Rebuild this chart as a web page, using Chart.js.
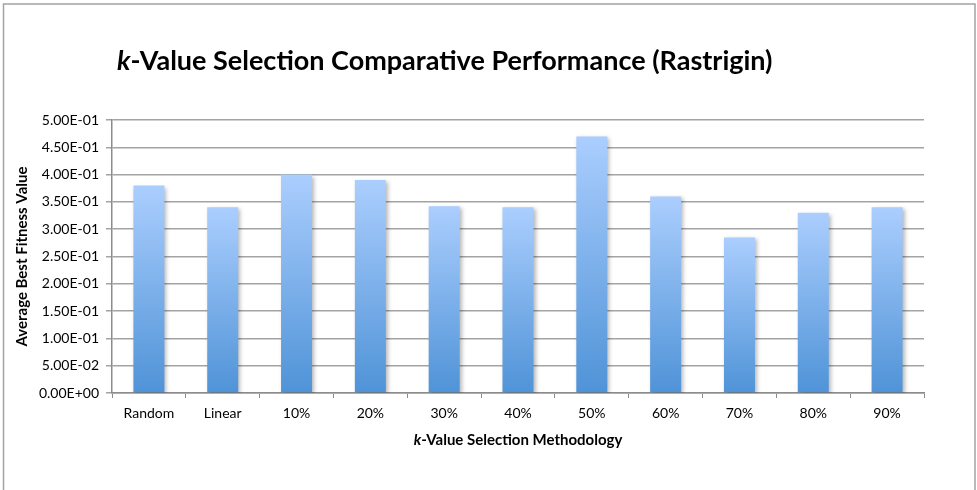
<!DOCTYPE html>
<html>
<head>
<meta charset="utf-8">
<title>k-Value Selection Comparative Performance (Rastrigin)</title>
<script src="https://cdn.jsdelivr.net/npm/chart.js@4/dist/chart.umd.min.js"></script>
<style>
  html, body { margin: 0; padding: 0; background: #ffffff; }
  #wrap { position: relative; width: 977px; height: 490px; }
  canvas { display: block; }
</style>
</head>
<body>
<div id="wrap"><canvas id="chart" width="977" height="490"></canvas></div>
<script>
// Methods compared on the x axis
const categories = ['Random', 'Linear', '10%', '20%', '30%', '40%', '50%', '60%', '70%', '80%', '90%'];

// Average best fitness reached by each k-value selection method
const avgBestFitness = [0.38, 0.34, 0.40, 0.39, 0.342, 0.34, 0.47, 0.36, 0.285, 0.33, 0.34];

// Y axis tick labels, from 0 up to 0.5 in steps of 0.05
const yTickLabels = ['0.00E+00', '5.00E-02', '1.00E-01', '1.50E-01', '2.00E-01', '2.50E-01',
                     '3.00E-01', '3.50E-01', '4.00E-01', '4.50E-01', '5.00E-01'];

const titleParts = [['k', true], ['-Value Selection Comparative Performance (Rastrigin)', false]];
const xTitleParts = [['k', true], ['-Value Selection Methodology', false]];
const yTitle = 'Average Best Fitness Value';

const FONT = 'Lato, "Open Sans", sans-serif';

// Vertical gradient per bar: light blue at the top, deeper blue at the base
function barGradient(context) {
  const chart = context.chart;
  const yScale = chart.scales.y;
  const v = context.raw;
  if (!yScale || v == null) return '#7fb0ec';
  const top = yScale.getPixelForValue(v);
  const base = yScale.getPixelForValue(0);
  if (!isFinite(top) || !isFinite(base) || top === base) return '#7fb0ec';
  const g = chart.ctx.createLinearGradient(0, top, 0, base);
  g.addColorStop(0, '#abcefe');
  g.addColorStop(1, '#4f93d7');
  return g;
}

function drawParts(ctx, parts, x, y, size, align) {
  let total = 0;
  const widths = parts.map(([t, it]) => {
    ctx.font = (it ? 'italic ' : '') + 'bold ' + size + 'px ' + FONT;
    const w = ctx.measureText(t).width;
    total += w;
    return w;
  });
  let cx = align === 'center' ? x - total / 2 : x;
  ctx.textAlign = 'left';
  ctx.textBaseline = 'alphabetic';
  parts.forEach(([t, it], i) => {
    ctx.font = (it ? 'italic ' : '') + 'bold ' + size + 'px ' + FONT;
    ctx.fillText(t, cx, y);
    cx += widths[i];
  });
}

const decorations = {
  id: 'decorations',
  beforeDraw(chart) {
    const ctx = chart.ctx;
    ctx.save();
    ctx.fillStyle = '#ffffff';
    ctx.fillRect(0, 0, chart.width, chart.height);
    // chart frame
    ctx.strokeStyle = '#a3a3a3';
    ctx.lineWidth = 1.5;
    ctx.strokeRect(3.5, 4, 971.5, 500);
    ctx.restore();
  },
  beforeDatasetsDraw(chart) {
    const ctx = chart.ctx;
    ctx.save();
    ctx.shadowColor = 'rgba(0,0,0,0.28)';
    ctx.shadowBlur = 4;
    ctx.shadowOffsetX = 2;
    ctx.shadowOffsetY = 2;
  },
  afterDatasetsDraw(chart) {
    chart.ctx.restore();
  },
  afterDraw(chart) {
    const ctx = chart.ctx;
    const area = chart.chartArea;
    ctx.save();
    ctx.fillStyle = '#000000';
    drawParts(ctx, titleParts, 117, 70, 27, 'left');
    drawParts(ctx, xTitleParts, (area.left + area.right) / 2, 445, 15, 'center');
    ctx.translate(22.5, (area.top + area.bottom) / 2);
    ctx.rotate(-Math.PI / 2);
    ctx.font = 'bold 15px ' + FONT;
    ctx.textAlign = 'center';
    ctx.textBaseline = 'middle';
    ctx.fillText(yTitle, 0, 0);
    ctx.restore();
  }
};

new Chart(document.getElementById('chart'), {
  type: 'bar',
  data: {
    labels: categories,
    datasets: [{
      label: 'Average Best Fitness Value',
      data: avgBestFitness,
      backgroundColor: barGradient,
      borderWidth: 0,
      barPercentage: 0.42,
      categoryPercentage: 1.0
    }]
  },
  options: {
    responsive: false,
    animation: false,
    devicePixelRatio: 1,
    layout: { padding: { top: 120, right: 53, bottom: 0, left: 0 } },
    plugins: {
      legend: { display: false },
      tooltip: { enabled: false },
      title: { display: false }
    },
    scales: {
      x: {
        offset: true,
        grid: {
          display: true,
          drawOnChartArea: false,
          offset: true,
          tickLength: 5,
          color: '#8c8c8c',
          lineWidth: 1
        },
        border: { display: true, color: '#8c8c8c', width: 1.5 },
        ticks: { color: '#000000', padding: 7, font: { family: FONT, size: 14 } },
        afterFit(scale) { scale.height = 97; }
      },
      y: {
        min: 0,
        max: 0.5,
        ticks: {
          stepSize: 0.05,
          color: '#000000',
          padding: 7,
          font: { family: FONT, size: 14 },
          callback: (value, index) => yTickLabels[index]
        },
        grid: { color: '#a3a3a3', lineWidth: 1.5, tickLength: 6 },
        border: { display: true, color: '#8c8c8c', width: 1.5 },
        afterFit(scale) { scale.width = 112; }
      }
    }
  },
  plugins: [decorations]
});
</script>
</body>
</html>
